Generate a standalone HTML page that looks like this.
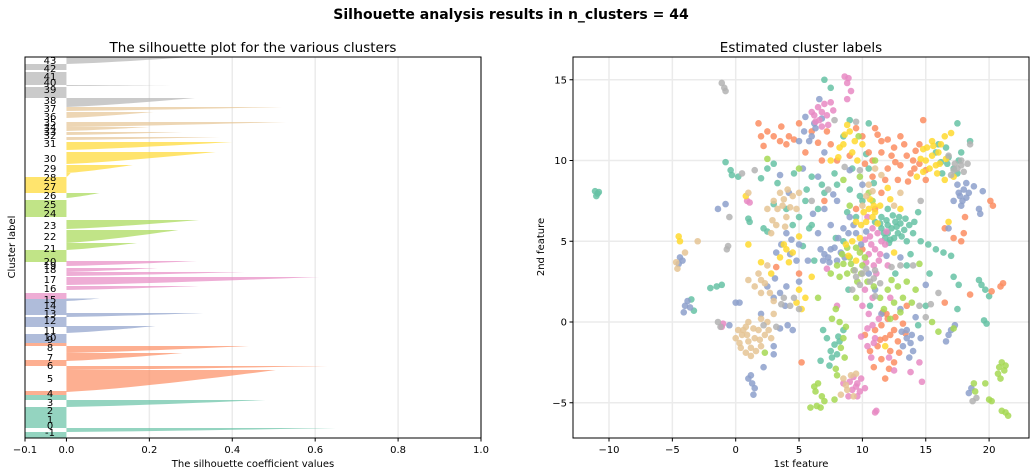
<!DOCTYPE html>
<html><head><meta charset="utf-8">
<style>
html,body{margin:0;padding:0;background:#fff;}
svg{display:block;font-family:"DejaVu Sans","Liberation Sans",sans-serif;}
</style></head>
<body>
<svg id="fig" width="1036" height="476" viewBox="0 0 1036 476">
<text x="511" y="19" text-anchor="middle" font-size="14" font-weight="bold" fill="#000">Silhouette analysis results in n_clusters = 44</text>
<text x="253" y="52" text-anchor="middle" font-size="13.5" fill="#000">The silhouette plot for the various clusters</text>
<text x="801" y="52" text-anchor="middle" font-size="13.5" fill="#000">Estimated cluster labels</text>
<text x="253" y="467" text-anchor="middle" font-size="10" fill="#000">The silhouette coefficient values</text>
<text x="801" y="467" text-anchor="middle" font-size="10" fill="#000">1st feature</text>
<text transform="translate(15,247) rotate(-90)" text-anchor="middle" font-size="10" fill="#000">Cluster label</text>
<text transform="translate(544,247) rotate(-90)" text-anchor="middle" font-size="10" fill="#000">2nd feature</text>
<g id="left"></g>
<g id="right"></g>
</svg>
<script>
// ---------- Silhouette data ----------
const silColors = ["#66c2a5","#fc8d62","#8da0cb","#e78ac3","#a6d854","#ffd92f","#e5c494","#b3b3b3"];
const bandStart = [0,6,10,31,38,43,46,68,72,77,85,92,95,105,111,121,123,137,139,148,153,162,166,172,176,188,195,209,221,240,245,261,265,274,288,298,303,307,311,320,327,331,340,352,353,368,374];
const bandEnd   = [6,10,31,38,43,47,68,72,78,85,92,95,104,112,121,125,139,139.5,145,152,161,166,170,177,188,195,208,218,238,245,261,265,273,286,296,301,306,311,316,326,331,340,351,353,366,374,381];
const bandPeak  = [-0.1,0.65,-0.1,0.48,-0.1,-0.1,0.505,0.63,-0.1,0.28,0.44,-0.1,-0.1,0.215,-0.1,0.33,-0.1,0.08,-0.1,0.32,0.61,0.43,0.22,0.315,-0.1,0.17,0.27,0.32,-0.1,0.08,-0.1,0.01,0.16,0.36,0.40,0.37,0.28,0.20,0.53,0.21,0.52,0.31,-0.1,0.25,-0.1,-0.1,0.30];
const bandColor = [0,0,0,0,0,1,1,1,1,1,1,1,2,2,2,2,2,2,3,3,3,3,3,3,4,4,4,4,4,4,5,5,5,5,5,6,6,6,6,6,6,7,7,7,7,7,7];
const clusterLabels = ["43","42","41","40","39","38","37","36","35","34","33","32","31","30","29","28","27","26","25","24","23","22","21","20","19","18","17","16","15","14","13","12","11","10","9","8","7","6","5","4","3","2","1","0","-1"];
const labelPos = [378,370,362,356,349,338,330,322,316,311,307,303,295,280,270,261,252,243,234,225,213,202,190,177,173,169,159,150,139,133,125,118,108,101,99,91,81,73,60,45,36,28,19,13,6];
const xTicksL = [-0.1,0.0,0.2,0.4,0.6,0.8,1.0];
const xTickLabelsL = ["\u22120.1","0.0","0.2","0.4","0.6","0.8","1.0"];

// ---------- Scatter data ----------
const ptColors = ["#66c2a5","#fc8d62","#8da0cb","#e78ac3","#a6d854","#ffd92f","#e5c494","#b3b3b3"];
const greenPts = "-11.1,8.1;-10.9,7.95;-11,7.8;-10.8,8.05;-2,2.1;-1.5,2.2;-1.1,2.3;-3.5,1.4;-3.3,0.7;-0.8,9.9;-0.4,9.4;-0.3,9.1;0.2,9.0;1,6.4;1.1,6.2;2.2,5.8;3,7.3;4,7;5,6.5;6,6;6.5,7;7,8;8,8.5;9,8.2;9.5,6.5;10,7.5;11,6.2;11.5,6.5;12,6;12.3,5.8;12.6,6.2;12,5.5;12.8,5.5;13,6.1;11.8,5.2;12.4,6.6;13.3,5.7;13.5,5;11.5,5.8;12.2,5.1;14,5.5;14.6,5;15.2,4.8;15.8,4.5;16.4,4.3;17,4.1;16.7,9.8;17.2,9.5;16.8,10.2;17.5,9.2;16.3,9.2;17.6,10;15.8,10.5;16,11;17.5,12.3;18.5,11.2;19.4,2.3;19.7,2.0;19.2,2.6;19.6,0.1;19.8,-0.1;17.2,2.8;17.6,2.3;7.5,-1.8;7.8,-1.4;7.6,-2.2;8.2,-1.2;8,-2;7.2,-1;6.7,-2.4;8.5,-0.5;10.3,10.4;8.5,11.5;5.6,8.2;3.3,8.6;2.5,9.5;2,8.9;2.5,5.6;9,12.5;10.5,12.3;7.5,14.5;7,15;14.4,6.8;13.5,3.5;15,1;14.4,-0.2;17.5,0.8;20,1.6;5.3,4.7;8.5,5;10.6,1;3,9.8;6.9,-0.5;11.9,6.3;12.7,5.9;13.1,5.3;12.1,4.9;11.4,6.1;12.9,6.5;13.7,6;12.5,5.2;11.7,5.5;13.4,6.4;14.1,6.2;10.5,9.5;9.2,9.5;7.8,9.2;6.8,8.5;6,9;5.5,7.5;4.5,6;8.8,6.8;9.8,7.8;10.9,8.6;12,7;7.9,5.2;6.2,3.8;8.1,-0.9;7.4,-2.7;8.9,2;12.6,3;16.2,9.9;17.8,10.5;16.6,10.8;15.3,3;13.8,4.2;5.8,5.8;4.6,9.2";
const orangePts = "1.8,12.3;2,11.5;2.2,10.9;3,11.5;3.5,11.2;4,11;4.2,11.5;3.6,12.1;5,12.3;6,11.8;5.5,10.5;6.8,10;7.5,11;8,10;9.5,12;10,11.5;11,12;11.5,11.2;12,11.3;12.5,10.8;13,11.5;11.5,10.5;10.8,10;12,9.5;13,9.7;13.5,10.3;14,10;14.5,9.8;15,9.4;14.8,12.5;14.5,11;12.8,8.8;13.6,8.7;11.5,8;10.8,9;11,7;16.5,5.8;17.2,5.2;17.8,5;18,5.5;20.3,7.2;20.1,7.5;18.1,6.5;20.9,2.2;21.1,2.4;20.2,1.9;11,-0.5;11.5,-0.2;12,0.2;12.5,-0.5;11.8,-1;12.2,-1.8;11.2,-1.5;12.8,-1.2;11.5,-2.3;10.9,-2.8;12.5,-2.5;11.8,-3.5;13.2,-0.1;10.2,-0.8;11.6,0.6;5.2,-2.5;13.5,1;10,4.5;9.5,7;7,7.5;3.2,3.4;16.5,1.2;18.5,1.7;5,3;10.5,10.5;11.2,11.6;12.3,10.3;13.3,11;14.2,10.6;13.8,9.2;12.6,9.9;11.8,8.8;10.2,9.8;9,10.3;7.2,11.8;6.5,11.1;4.6,11.3;2.5,11.8;14.1,9.5;15,8.8;12.2,-0.8;11.4,-1.1;12.9,-1.9;11.9,0.5;12.6,0.3;10.6,-1.8;12.1,-2.9;13.4,-0.7";
const bluePts = "-4.4,4;-4.2,3.8;-4.5,3.6;-3.8,1.3;-4,1;-3.6,0.9;-4.1,0.6;-1.4,7;-0.8,7.3;0,1.2;0.3,1.2;-0.5,-0.2;1,-3.5;1.2,-3.3;1.3,-3.8;1.5,-4.1;1.4,-4.5;2.2,-2.8;3,-2;2,0.5;2.5,2.2;3,1.5;3.5,1.8;3.2,4.3;3.6,4.8;4,5.5;4.3,4.2;4.8,3.8;5,2.5;3.9,1;3.5,-0.4;4.5,-0.5;4.2,8;5.3,9.5;5.8,11.2;6,11.5;6.3,12;5,11.2;6.6,13.8;7,10.5;6.5,9;7,7;7.5,6;6.5,5.5;6.7,4.5;7,4.2;7.5,4.5;7.3,4;8,3.8;8.3,4.3;8.5,5.8;9,6.5;9.5,5.5;8,7.5;10.5,3;11,2;13,0.8;13.5,-1;13.2,-1.5;13.8,-1.3;13.5,-0.5;14,-1.8;14.2,0.3;17,-0.5;16.8,-0.8;17.3,-0.2;16.6,-1.2;17.7,7.8;18,8.2;17.5,8.5;18.4,8;17.2,7.5;18.8,8.4;17.8,7.2;18.2,7.7;19.2,7;19.3,6.7;19.5,8.1;18.4,-4.4;18.6,-4.1;13,4;11.5,0.5;15,2.3;10,8.5;9,9.4;16.8,5.8;5.5,12.7;3.5,9.1;7.4,3.7;7.8,4.6;8.6,4;6.9,3.8;8.1,5.2;8.9,5.5;9.3,6;7.7,7.9;6.1,6.7;5,4.8;4.4,5.1;3.1,2.7;4,2.2;5.7,3.8;6.2,12.3;6.8,12.6;5.4,11.8;4.1,-0.2;3,-1.5;13.9,-0.8;13.1,-0.6;13.7,-2.2;14.6,-1;17.6,8;18.2,8.6;17.9,7.5;9.9,4.8;10.3,5.6;11.9,4.1";
const pinkPts = "6,13;6.3,12.4;6.5,13.3;7,13.5;7.2,12.8;7.5,13.6;6.8,13;6.2,12.8;8.6,15.2;8.8,14.8;8.9,15.1;9.1,14.3;8.8,13.8;7.3,12.2;11.5,5;11,4.5;11.2,5.5;10.8,5.8;11.8,4.8;10.5,4.2;10.2,5.1;10.9,3.5;11.3,3.8;10.2,2;10,1;10.5,0.5;10.8,-0.2;11,-1;10.4,-1.5;10.7,-2.2;9.9,-3.5;9.5,-4;9.2,-4.2;9.6,-3.8;8.5,-3.8;9,-3.7;9.8,-4.3;11.1,-5.5;11,-5.6;-1.1,-0.3;-1,-0.1;0.9,7.5;1.1,7.4;13.8,-3.1;14.5,-2.5;14.7,-3.7;12.5,-3;12,3.5;12.2,1.5;8,1;7.2,3.3;10.4,6.5;10.7,4.8;11.4,4.2;11.9,5.6;10.6,5.3;11.1,3;10.3,3.7;10.8,1.5;10.4,-0.4;11.3,0.2;9.9,-0.9;10.9,-1.3;9.3,-3.4;10.2,-4.1;8.9,-4.6;9.6,-4.6;6.8,12.1;7.7,13.1;6.6,12.5;12.1,-2.2";
const limePts = "20.8,-2.8;21,-2.5;21.2,-3;20.7,-3.2;21.3,-2.7;20.9,-3.5;20,-4.8;20.2,-4.9;21,-5.5;21.3,-5.6;21.5,-5.8;19.7,-3.8;18.8,-3.8;18.9,-4.3;6.2,-4;6.3,-4.3;6.5,-3.8;6.8,-4.6;6.4,-5.2;6.7,-5.3;7,-4.9;5.9,-5.3;8,-3.3;7.8,-4.8;9,4;8.5,3.6;9.3,3.2;9.8,4.3;8.8,4.6;8.2,2.8;9.6,2.5;10,3.5;10.4,2.5;9.5,1.5;12,2;12.5,1.2;12.8,2.2;13.2,1.5;11.7,0.8;8.2,0;8.5,-1;8.6,-2.2;7.9,0.8;10.5,8;10.8,7.5;9.8,9;9,7.2;8.5,8.8;14.5,3.6;15.5,0;16,-0.6;5,9.5;9.7,11.5;11,10;2.5,10.1;6.5,1.5;17.2,-0.4;2.3,-1.9;9.1,3.6;8.8,3;9.5,4.6;10.2,4;8.4,4.2;9.9,3;10.9,2.2;12.3,2.6;13,0.6;12.2,0.2;8.3,-1.6;8.7,-0.3;7.9,-2.9;13.5,2.5;13.9,1.2;14.2,2;8,3.5;11.4,1.5;7.6,0.2;7.5,3";
const yellowPts = "-4.5,5.3;-4.4,5;15,10;15.5,10.3;16,10.5;15.3,9.5;15.8,9.7;14.8,9.3;16.2,11;15.5,11.2;14.8,10.7;16.5,11.5;14.3,9;17,11.7;16.5,8.8;17.2,9;10.5,7;11,6.8;10.3,6.2;11.4,7.2;10.8,6.5;9.5,6.2;9.8,5.2;8.7,4.8;9.5,3.8;8.5,11;9,11.8;9.2,10.5;8.2,10.8;8.8,12.2;7.5,10;10,11;5,5.3;4.5,4.3;4,4.5;3.5,4;5,2;5.2,0.8;4.8,1.2;6,2.8;2,3.7;1,4.8;2.8,3;12.5,4.3;13,7;12,8.3;16.8,6.2;0.8,7.8;11.8,-1.5;15.6,10.9;16.1,9.8;15.1,10.8;14.6,10.1;16.6,10.1;15.9,9.2;10.9,7.2;10.1,6.8;11.2,6.1;9.9,6;10.6,7.6;8.6,11.6;9.4,11.2;8.1,10.2;9.6,10;4.2,3.7;5.5,1.5;3.8,4.8;8.9,4.1;9.2,5;12.2,7.6";
const tanPts = "-4.7,3.7;-4.6,3.3;-4,4.3;-3,5;0,-1;0.3,-1.3;0.5,-0.8;0.8,-0.3;1,-1.2;1.5,-1;1.8,-0.5;1.2,-1.6;0.8,-1.9;2,-1.5;2.3,-0.8;0.6,-0.5;1,0;1.6,-1.8;2,0.2;2.5,0;2.8,-1;3,1.3;2,1.8;2.3,2.4;1.8,3;1.5,2.2;2.5,3.5;1,2.6;2.5,7;3,7.5;3.5,8;3.7,7.2;4,6.5;4.5,7.8;5,8;4.8,7;2.8,5.5;3.2,6;3.9,5.9;8.5,-3.5;8.8,-4.2;9.5,-3.2;8.3,-4.5;9.3,-4.6;10,7.2;10.5,8.5;11,9.5;12.5,7.2;13,8;1,8;0.4,-1.6;1.4,-0.4;0.9,-0.8;1.9,-1.1;2.6,-0.5;1.2,-2.1;0.2,-0.5;3,0.5;2.7,1.8;2,2.6;3.3,7;3.8,7.6;4.3,7.1;2.9,6.3;4.1,8.2;8.7,-3.9;9.1,-3.3;10.3,7.8;11.5,9.1;10.8,8.1";
const grayPts = "-1.1,14.8;-0.9,14.5;-0.8,14.3;-0.5,6.5;-0.7,4.5;-0.6,4.7;-1.2,-0.3;-1.4,0;0.5,9.2;1.5,9.4;17.3,9.8;17.8,10;18,9.3;17,9.1;17.5,9.5;18.3,9.8;16.8,10.3;18.5,11;18.7,-4.9;19,-4.7;9.5,2.8;10,3;10.6,2.5;9.2,2;11,3.2;13,3.5;14,3.5;14.5,1;16,1.8;15,0.3;3.8,1.5;4.3,1;3.2,-0.3;5,0.8;7.8,12.5;9.5,12.4;11,1.6;14.6,7.5;6,7.5;2.2,-0.2;9.8,2.3;10.3,3.3;10.9,2.7;9.4,3.2;11.4,2.4;3.6,1.1;4.6,1.5;17.2,9.4;17.8,9.7;8.6,9.6;9.8,9.4;7.3,8.2;12.3,3.4;15.4,1.1";
const seriesPts = [greenPts, orangePts, bluePts, pinkPts, limePts, yellowPts, tanPts, grayPts];
const xTicksR = [-10,-5,0,5,10,15,20];
const yTicksR = [-5,0,5,10,15];

const NS = "http://www.w3.org/2000/svg";
function mk(tag, attrs, parent){
  const e = document.createElementNS(NS, tag);
  for (const k in attrs) e.setAttribute(k, attrs[k]);
  parent.appendChild(e);
  return e;
}

// ---------- Left axes ----------
const L = {x0:25, x1:481, y0:57, y1:438};
const sx = v => L.x0 + (v + 0.1) / 1.1 * (L.x1 - L.x0);
const sy = v => L.y1 - v / 381 * (L.y1 - L.y0);
const left = document.getElementById('left');
xTicksL.forEach((t,i)=>{
  if (t > 0) {
    const g = mk('line',{x1:sx(t),x2:sx(t),y1:L.y0,y2:L.y1,stroke:'#ebebeb','stroke-width':1.5},left);
    
    
  }
});
bandStart.forEach((s,i)=>{
  const e = bandEnd[i], p = bandPeak[i], c = silColors[bandColor[i]];
  let d;
  if (p <= -0.1) {
    d = `M${sx(-0.1)},${sy(s)} L${sx(0)},${sy(s)} L${sx(0)},${sy(e)} L${sx(-0.1)},${sy(e)} Z`;
  } else {
    const n = 12;
    d = `M${sx(0)},${sy(s)}`;
    for (let k=0;k<=n;k++){
      const f = k/n;
      const v = p * Math.pow(f, 0.8);
      d += ` L${sx(v)},${sy(s + (e-s)*f)}`;
    }
    d += ` L${sx(0)},${sy(e)} Z`;
  }
  const el = mk('path',{d:d,fill:c,'fill-opacity':0.7},left);
  
  
});
clusterLabels.forEach((lab,i)=>{
  const t = mk('text',{x:50,y:sy(labelPos[i])+4,'text-anchor':'middle','font-size':10,fill:'#000'},left);
  t.textContent = lab;
  
  
});
const frameL = mk('rect',{x:L.x0,y:L.y0,width:L.x1-L.x0,height:L.y1-L.y0,fill:'none',stroke:'#000','stroke-width':1},left);


xTicksL.forEach((t,i)=>{
  const tk = mk('line',{x1:sx(t),x2:sx(t),y1:L.y1,y2:L.y1+3.5,stroke:'#000'},left);
  
  
  const lb = mk('text',{x:sx(t),y:L.y1+15,'text-anchor':'middle','font-size':10,fill:'#000'},left);
  lb.textContent = xTickLabelsL[i];
  
  
});

// ---------- Right axes ----------
const R = {x0:573, x1:1029, y0:57, y1:438};
const rx = v => 735.7 + v * 12.67;
const ry = v => 322 - v * 16.15;
const right = document.getElementById('right');
xTicksR.forEach(t=>{
  const g = mk('line',{x1:rx(t),x2:rx(t),y1:R.y0,y2:R.y1,stroke:'#ebebeb','stroke-width':1.5},right);
  
  
});
yTicksR.forEach(t=>{
  const g = mk('line',{x1:R.x0,x2:R.x1,y1:ry(t),y2:ry(t),stroke:'#ebebeb','stroke-width':1.5},right);
  
  
});
seriesPts.forEach((str,ci)=>{
  str.split(';').forEach(pair=>{
    const [x,y] = pair.split(',').map(Number);
    const c = mk('circle',{cx:rx(x),cy:ry(y),r:3.3,fill:ptColors[ci],'fill-opacity':0.85},right);
    
    
  });
});
const frameR = mk('rect',{x:R.x0,y:R.y0,width:R.x1-R.x0,height:R.y1-R.y0,fill:'none',stroke:'#000','stroke-width':1},right);


xTicksR.forEach(t=>{
  const tk = mk('line',{x1:rx(t),x2:rx(t),y1:R.y1,y2:R.y1+3.5,stroke:'#000'},right);
  
  
  const lb = mk('text',{x:rx(t),y:R.y1+15,'text-anchor':'middle','font-size':10,fill:'#000'},right);
  lb.textContent = (t<0?'\u2212'+(-t):String(t));
  
  
});
yTicksR.forEach(t=>{
  const tk = mk('line',{x1:R.x0-3.5,x2:R.x0,y1:ry(t),y2:ry(t),stroke:'#000'},right);
  
  
  const lb = mk('text',{x:R.x0-6,y:ry(t)+3.5,'text-anchor':'end','font-size':10,fill:'#000'},right);
  lb.textContent = (t<0?'\u2212'+(-t):String(t));
  
  
});
</script>
</body></html>
